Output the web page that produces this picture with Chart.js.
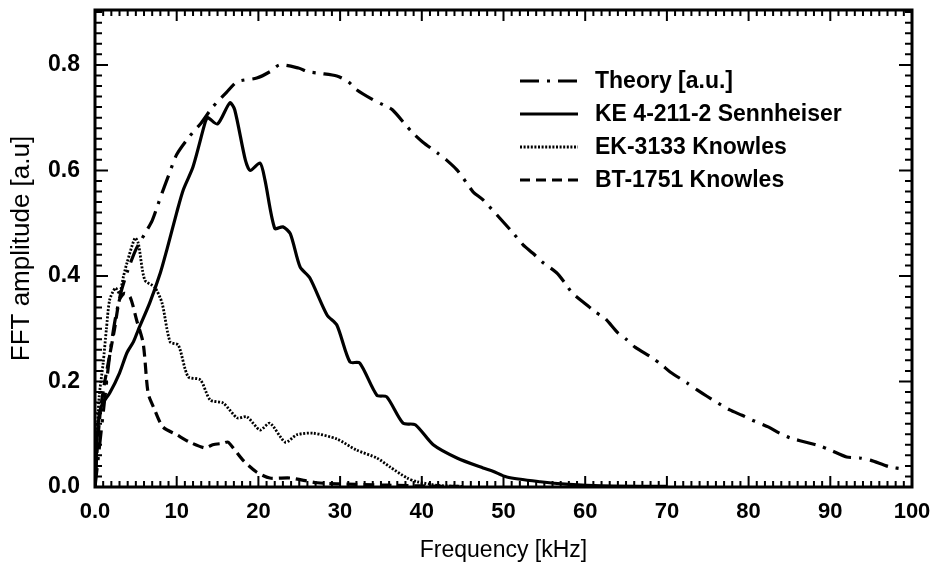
<!DOCTYPE html>
<html>
<head>
<meta charset="utf-8">
<script src="https://cdn.jsdelivr.net/npm/chart.js@4.4.1/dist/chart.umd.min.js"></script>
<style>
html,body{margin:0;padding:0;background:#fff;}
#wrap{width:936px;height:573px;}
</style>
</head>
<body>
<div id="wrap"><canvas id="c" width="936" height="573"></canvas></div>
<script>
// ---- data ----
const seriesNames = ['Theory [a.u.]', 'KE 4-211-2 Sennheiser', 'EK-3133 Knowles', 'BT-1751 Knowles'];

const theoryFreq = [0,0.5,1,1.8,2.5,3.2,4,5,6.1,7,7.7,8.2,9,10,11.6,13,14.4,16.1,17.4,19.8,21.4,22.6,24.9,26.1,27.5,29.6,31,32,34,35.3,36.4,38.2,38.9,40.1,42,43,44.3,45.5,46.3,47.5,51.2,52.4,53.6,54.7,56.5,57.5,58.4,60.2,61.2,62.4,64,65.1,66.1,68.2,69.4,70.4,72.5,73.7,74.9,77.7,79.2,80.4,82.4,83.8,85.1,87.5,88.7,90,92,93.6,94.9,97.3,99];
const theoryAmp  = [0,0.07,0.14,0.25,0.32,0.37,0.41,0.45,0.48,0.505,0.535,0.557,0.59,0.63,0.665,0.69,0.72,0.748,0.768,0.775,0.787,0.80,0.794,0.787,0.784,0.779,0.768,0.753,0.734,0.724,0.715,0.683,0.671,0.654,0.632,0.62,0.601,0.576,0.559,0.544,0.481,0.459,0.443,0.427,0.406,0.387,0.368,0.345,0.332,0.32,0.292,0.279,0.265,0.245,0.231,0.218,0.197,0.184,0.172,0.146,0.136,0.127,0.114,0.102,0.093,0.083,0.078,0.07,0.057,0.055,0.051,0.038,0.034];

const keFreq = [0,0.3,0.6,1,1.8,3,3.9,4.7,5.3,6.7,8,8.8,10,10.8,12,13.5,13.8,15,16.5,17.1,18.4,19,20.2,20.8,22,23,23.9,25.1,26.3,28.4,29.6,31.2,32.4,34.5,35.7,37.7,39.2,41.4,44.3,47.5,48.7,50.4,54.5,58,62,70];
const keAmp  = [0,0.1,0.145,0.16,0.178,0.216,0.254,0.275,0.298,0.349,0.406,0.45,0.52,0.563,0.607,0.692,0.70,0.688,0.728,0.715,0.62,0.60,0.614,0.582,0.49,0.493,0.48,0.417,0.396,0.326,0.307,0.237,0.235,0.174,0.171,0.121,0.118,0.08,0.055,0.036,0.03,0.019,0.01,0.005,0.002,0.001];

const ekFreq = [0,0.2,0.5,1,1.4,1.8,2.5,3,3.5,3.9,4.9,5.3,6.1,7.3,8.2,9.2,10.2,11.4,12.9,14.1,15.7,17.4,18.6,20.2,21.4,23.3,24.7,26.7,29.6,32,34.5,36.1,38.2,39.4,42,45];
const ekAmp  = [0,0.076,0.17,0.235,0.30,0.355,0.377,0.367,0.40,0.424,0.472,0.462,0.392,0.379,0.349,0.275,0.269,0.209,0.203,0.165,0.159,0.131,0.133,0.108,0.121,0.085,0.099,0.102,0.091,0.07,0.055,0.038,0.017,0.01,0.003,0.001];

const btFreq = [0,0.3,0.7,1.2,1.8,2.4,3,3.6,4.3,5.1,5.9,6.5,7.2,8.3,10,11.6,13.5,14.4,15.7,16.3,18.1,19.8,21.4,23.9,27.2,32,40,45];
const btAmp  = [0,0.08,0.15,0.2,0.25,0.3,0.355,0.367,0.36,0.316,0.272,0.178,0.15,0.114,0.099,0.085,0.074,0.08,0.083,0.085,0.051,0.028,0.017,0.017,0.008,0.005,0.002,0.001];

const xTickValues = [0,10,20,30,40,50,60,70,80,90,100];
const yTickValues = [0,0.2,0.4,0.6,0.8];

// ---- build ----
const pts = (f, a) => f.map((v, i) => ({x: v, y: a[i]}));
const FONT = '"Liberation Sans", Arial, Helvetica, sans-serif';

const styles = [
  {borderDash: [19, 8, 3, 8], borderWidth: 3.2},
  {borderDash: [], borderWidth: 3.2},
  {borderDash: [2, 1.6], borderWidth: 2.8},
  {borderDash: [11, 6], borderWidth: 3.2}
];
const sets = [pts(theoryFreq, theoryAmp), pts(keFreq, keAmp), pts(ekFreq, ekAmp), pts(btFreq, btAmp)];

const datasets = sets.map((d, i) => ({
  label: seriesNames[i],
  data: d,
  borderColor: '#000',
  backgroundColor: '#000',
  borderWidth: styles[i].borderWidth,
  borderDash: styles[i].borderDash,
  pointRadius: 0,
  tension: 0.25,
  fill: false
}));

const framePlugin = {
  id: 'framePlugin',
  afterDatasetsDraw(chart) {
    const {ctx, chartArea: a, scales: {x, y}} = chart;
    ctx.save();
    ctx.strokeStyle = '#000';
    ctx.setLineDash([]);
    ctx.lineWidth = 2;
    ctx.beginPath();
    for (let v = 0; v <= 100; v += 1) {
      const px = x.getPixelForValue(v);
      const L = (v % 10 === 0) ? 11 : 6;
      ctx.moveTo(px, a.bottom); ctx.lineTo(px, a.bottom - L);
      ctx.moveTo(px, a.top); ctx.lineTo(px, a.top + L);
    }
    for (let i = 0; i <= 45; i++) {
      const v = i * 0.02;
      const py = y.getPixelForValue(v);
      const L = (i % 10 === 0) ? 13 : 7;
      ctx.moveTo(a.left, py); ctx.lineTo(a.left + L, py);
      ctx.moveTo(a.right, py); ctx.lineTo(a.right - L, py);
    }
    ctx.stroke();
    ctx.lineWidth = 3;
    ctx.strokeRect(a.left, a.top, a.right - a.left, a.bottom - a.top);

    // legend
    const lx0 = 520, lx1 = 578, tx = 595;
    const rows = [81, 114, 147, 180];
    ctx.font = 'bold 23px ' + FONT;
    ctx.textBaseline = 'middle';
    ctx.fillStyle = '#000';
    chart.data.datasets.forEach((ds, i) => {
      ctx.beginPath();
      ctx.lineWidth = ds.borderWidth;
      ctx.setLineDash(i === 3 ? [10, 6] : ds.borderDash);
      ctx.moveTo(lx0, rows[i]); ctx.lineTo(lx1, rows[i]);
      ctx.stroke();
      ctx.setLineDash([]);
      ctx.fillText(ds.label, tx, rows[i] + 1);
    });
    ctx.restore();
  }
};

new Chart(document.getElementById('c'), {
  type: 'line',
  data: {datasets},
  options: {
    responsive: false,
    animation: false,
    devicePixelRatio: 1,
    layout: {padding: {left: 0, right: 24, top: 10, bottom: 0}},
    plugins: {legend: {display: false}, tooltip: {enabled: false}},
    scales: {
      x: {
        type: 'linear', min: 0, max: 100,
        afterBuildTicks: s => { s.ticks = xTickValues.map(v => ({value: v})); },
        afterFit: s => { s.height = 86; s.paddingLeft = 0; s.paddingRight = 0; },
        grid: {display: false},
        border: {display: false},
        ticks: {
          color: '#000', padding: 4,
          font: {family: FONT, size: 22, weight: 'bold'},
          maxRotation: 0, autoSkip: false,
          callback: v => v === 0 ? '0.0' : String(v)
        },
        title: {
          display: true, text: 'Frequency [kHz]', color: '#000',
          font: {family: FONT, size: 23},
          padding: {top: 0, bottom: 9}
        }
      },
      y: {
        type: 'linear', min: 0, max: 0.904,
        afterBuildTicks: s => { s.ticks = yTickValues.map(v => ({value: v})); },
        afterFit: s => { s.width = 95; s.paddingTop = 0; s.paddingBottom = 0; },
        grid: {display: false},
        border: {display: false},
        ticks: {
          color: '#000', padding: 7,
          font: {family: FONT, size: 23, weight: 'bold'},
          callback: v => Number(v).toFixed(1)
        },
        title: {
          display: true, text: 'FFT amplitude [a.u]', color: '#000',
          font: {family: FONT, size: 26},
          padding: {top: 6, bottom: 0}
        }
      }
    }
  },
  plugins: [framePlugin]
});
</script>
</body>
</html>
